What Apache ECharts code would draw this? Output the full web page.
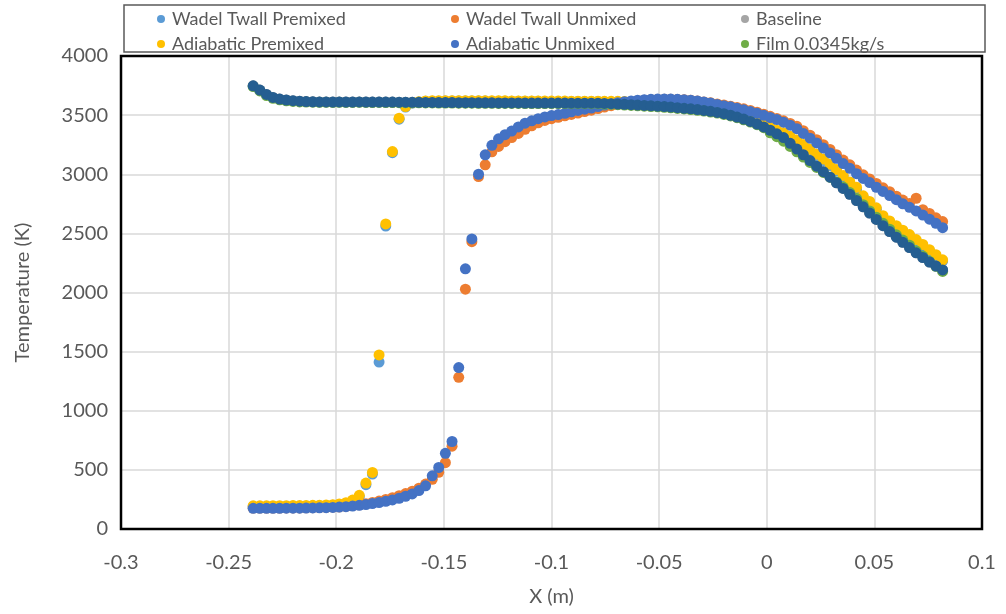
<!DOCTYPE html>
<html>
<head>
<meta charset="utf-8">
<script src="https://cdn.jsdelivr.net/npm/echarts@6/dist/echarts.min.js"></script>
<style>
html,body{margin:0;padding:0;background:#fff;}
#chart{width:1006px;height:614px;}
</style>
</head>
<body>
<div id="chart"></div>
<script>
// ---- data ----
const X = [-0.2386,-0.2355,-0.2324,-0.2294,-0.2263,-0.2232,-0.2201,-0.2170,-0.2140,-0.2109,
-0.2078,-0.2047,-0.2016,-0.1986,-0.1955,-0.1924,-0.1893,-0.1862,-0.1832,-0.1801,
-0.1770,-0.1739,-0.1708,-0.1678,-0.1647,-0.1616,-0.1585,-0.1554,-0.1524,-0.1493,
-0.1462,-0.1431,-0.1400,-0.1370,-0.1339,-0.1308,-0.1277,-0.1246,-0.1216,-0.1185,
-0.1154,-0.1123,-0.1092,-0.1062,-0.1031,-0.1000,-0.0969,-0.0938,-0.0908,-0.0877,
-0.0846,-0.0815,-0.0784,-0.0754,-0.0723,-0.0692,-0.0661,-0.0630,-0.0600,-0.0569,
-0.0538,-0.0507,-0.0476,-0.0446,-0.0415,-0.0384,-0.0353,-0.0322,-0.0292,-0.0261,
-0.0230,-0.0199,-0.0168,-0.0138,-0.0107,-0.0076,-0.0045,-0.0014,0.0016,0.0047,
0.0078,0.0109,0.0140,0.0170,0.0201,0.0232,0.0263,0.0294,0.0324,0.0355,
0.0386,0.0417,0.0448,0.0478,0.0509,0.0540,0.0571,0.0602,0.0632,0.0663,
0.0694,0.0725,0.0756,0.0786,0.0817];

const tWadelPremixed = [190,190,190,191,191,191,192,192,193,194,195,
197,200,206,216,238,272,375,465,1412,2562,3182,3466,3568,
3602,3611,
3617,3618,3618,3619,3619,3619,3619,3619,3619,3619,3618,3618,3618,3617,3617,3617,3617,3617,3616,3616,3616,3616,3615,3615,3615,3615,3615,3614,3614,3614,
3612,3610,3607,3604,3600,3596,3592,3587,3582,3576,3569,3561,3552,3542,3531,3518,3504,3489,3473,3457,3440,
3414,3388,3362,3340,3310,3278,3240,3200,3158,3116,3073,3028,2978,2925,2872,2806,2758,2704,2640,2595,2555,2517,2480,2438,2396,2352,2310,2266];

const tWadelUnmixed = [177,177,177,177,177,178,178,178,179,180,181,183,185,
187,192,198,205,214,224,236,250,265,282,300,320,345,380,420,480,561,700,
1283,2028,2430,2980,3080,3190,3235,
3275,3310,3345,3380,3410,3435,3455,3470,3482,3494,3506,3518,3530,3542,3555,3568,3580,3592,
3602,3612,3620,3626,3630,3633,3634,3634,3632,3629,3625,3619,3612,3604,3595,3586,3576,3565,3553,3540,3525,
3508,3490,3472,3452,3430,3405,3368,3330,3292,3250,3210,3165,3120,3080,3035,2995,2960,2922,2885,2852,2815,2782,2752,2797,2700,2668,2632,2600];

const tBaseline = [3748,3712,3675,3650,3636,3628,3622,3618,3615,3613,
3612,3612,3611,3612,3611,3611,3612,3611,3610,3611,
3610,3610,3609,3609,3608,3608,3607,3607,3606,3606,
3606,3605,3605,3605,3604,3604,3604,3603,3603,3603,
3603,3602,3602,3602,3602,3602,3602,3602,3601,3601,
3601,3601,3601,3599,3597,3594,3591,3588,3585,3582,
3579,3576,3572,3568,3563,3558,3553,3547,3540,3532,
3523,3512,3499,3484,3467,3447,3425,3400,3372,3342,
3310,3262,3213,3165,3116,3068,3022,2975,2928,2880,
2830,2778,2725,2672,2618,2565,2515,2468,2424,2380,
2336,2296,2258,2224,2191];

const tAdiabaticPremixed = [196,196,196,197,197,197,198,198,199,200,201,
203,206,212,222,245,285,388,478,1472,2580,3192,3474,3573,
3605,3614,
3620,3621,3621,3622,3622,3622,3622,3622,3622,3622,3621,3621,3621,3620,3620,3620,3620,3620,3619,3619,3619,3619,3618,3618,3618,3618,3618,3617,3617,3617,
3616,3614,3612,3610,3607,3604,3600,3596,3591,3585,3578,3570,3561,3551,3540,3528,3514,3499,3483,3467,3450,
3425,3398,3372,3352,3322,3290,3252,3212,3170,3128,3085,3040,2990,2935,2890,2818,2770,2716,2650,2605,2565,2527,2490,2448,2406,2362,2320,2276];

const tAdiabaticUnmixed = [175,175,175,175,175,176,176,176,177,178,179,180,182,
185,189,194,200,207,215,224,234,246,260,277,297,325,365,450,520,640,740,
1365,2200,2453,3000,3164,3245,3300,
3335,3365,3400,3432,3452,3470,3485,3496,3505,3515,3528,3540,3550,3560,3572,3585,3595,3605,
3613,3620,3626,3630,3634,3636,3637,3636,3634,3630,3626,3620,3612,3603,3590,3580,3570,3558,3545,3530,3515,
3498,3480,3462,3440,3415,3385,3345,3305,3265,3222,3180,3135,3090,3050,3005,2965,2930,2890,2855,2820,2785,2750,2720,2690,2655,2620,2585,2548];

const tFilm = [3742,3705,3666,3642,3629,3621,3616,3612,3610,3609,
3608,3608,3607,3608,3607,3607,3608,3607,3606,3607,
3606,3606,3605,3605,3604,3604,3603,3603,3602,3602,
3602,3601,3601,3601,3600,3600,3600,3599,3599,3599,
3599,3598,3598,3598,3598,3598,3598,3598,3597,3597,
3597,3597,3597,
3593,3591,3588,3585,3582,3579,3576,3573,3570,3566,3562,3557,3552,3547,3541,3534,3526,3517,3506,3493,3478,3461,3441,3419,3394,
3350,3318,3280,3235,3190,3145,3100,3058,3015,2975,2935,2892,2845,2795,2742,2690,2637,2585,2535,2488,2443,2400,2352,2308,2264,2222,2178];

// series without legend entry (dark blue)
const tSeries7 = [3748,3712,3675,3650,3636,3628,3622,3618,3615,3613,
3612,3612,3611,3612,3611,3611,3612,3611,3610,3611,
3610,3610,3609,3609,3608,3608,3607,3607,3606,3606,
3606,3605,3605,3605,3604,3604,3604,3603,3603,3603,
3603,3602,3602,3602,3602,3602,3602,3602,3601,3601,
3601,3601,3601,3599,3597,3594,3591,3588,3585,3582,
3579,3576,3572,3568,3563,3558,3553,3547,3540,3532,
3523,3512,3499,3484,3467,3447,3425,3400,3372,3342,
3310,3262,3213,3165,3116,3068,3022,2975,2928,2880,
2830,2778,2725,2672,2618,2565,2515,2468,2424,2380,
2336,2296,2258,2224,2191];

const seriesNames = ['Wadel Twall Premixed','Wadel Twall Unmixed','Baseline','Adiabatic Premixed','Adiabatic Unmixed','Film 0.0345kg/s','Series7'];
const seriesData = [tWadelPremixed,tWadelUnmixed,tBaseline,tAdiabaticPremixed,tAdiabaticUnmixed,tFilm,tSeries7];
const seriesColors = ['#5B9BD5','#ED7D31','#A5A5A5','#FFC000','#4472C4','#70AD47','#255E91'];

const xMin = -0.3, xMax = 0.1, xStep = 0.05;
const yMin = 0, yMax = 4000, yStep = 500;

// ---- chart ----
const G = {left:121, top:56, width:861, height:473};
const FONT = 'Lato, "Noto Sans", sans-serif';
const TXT = '#595959';

const chart = echarts.init(document.getElementById('chart'), null, {renderer:'canvas'});

function pts(t){ return X.map((x,i)=>[x,t[i]]); }

const legendCommon = {
  orient:'vertical', top:5, itemWidth:8, itemHeight:8, itemGap:7, icon:'circle',
  textStyle:{fontFamily:FONT, fontSize:18, color:TXT, lineHeight:18, padding:[0,0,0,2]},
  selectedMode:false
};

chart.setOption({
  animation:false,
  backgroundColor:'#fff',
  grid:{left:G.left, top:G.top, width:G.width, height:G.height, show:false},
  legend:[
    Object.assign({}, legendCommon, {left:152, data:[seriesNames[0], seriesNames[3]]}),
    Object.assign({}, legendCommon, {left:446, data:[seriesNames[1], seriesNames[4]]}),
    Object.assign({}, legendCommon, {left:736, data:[seriesNames[2], seriesNames[5]]})
  ],
  xAxis:{
    type:'value', min:xMin, max:xMax, interval:xStep,
    name:'X (m)', nameLocation:'middle', nameGap:58,
    nameTextStyle:{fontFamily:FONT, fontSize:20, color:TXT},
    axisLine:{show:false}, axisTick:{show:false},
    axisLabel:{fontFamily:FONT, fontSize:20, color:TXT, margin:24, formatter:v=>String(+v.toFixed(2))},
    splitLine:{show:true, lineStyle:{color:'#D9D9D9', width:1.5}}
  },
  yAxis:{
    type:'value', min:yMin, max:yMax, interval:yStep,
    name:'Temperature (K)', nameLocation:'middle', nameGap:88, nameRotate:90,
    nameTextStyle:{fontFamily:FONT, fontSize:20, color:TXT},
    axisLine:{show:false}, axisTick:{show:false},
    axisLabel:{fontFamily:FONT, fontSize:20, color:TXT, margin:13, formatter:v=>String(v)},
    splitLine:{show:true, lineStyle:{color:'#D9D9D9', width:1.5}}
  },
  graphic:[
    {type:'rect', z:100, silent:true, shape:{x:124, y:5, width:861, height:47},
     style:{fill:'none', stroke:'#595959', lineWidth:1.5}},
    {type:'rect', z:100, silent:true, shape:{x:G.left, y:G.top, width:G.width, height:G.height},
     style:{fill:'none', stroke:'#000', lineWidth:2.5}}
  ],
  series: seriesNames.map((n,i)=>({
    name:n, type:'scatter', data:pts(seriesData[i]),
    symbol:'circle', symbolSize:11,
    itemStyle:{color:seriesColors[i], opacity:1},
    emphasis:{disabled:true}, z:2
  }))
});
</script>
</body>
</html>
